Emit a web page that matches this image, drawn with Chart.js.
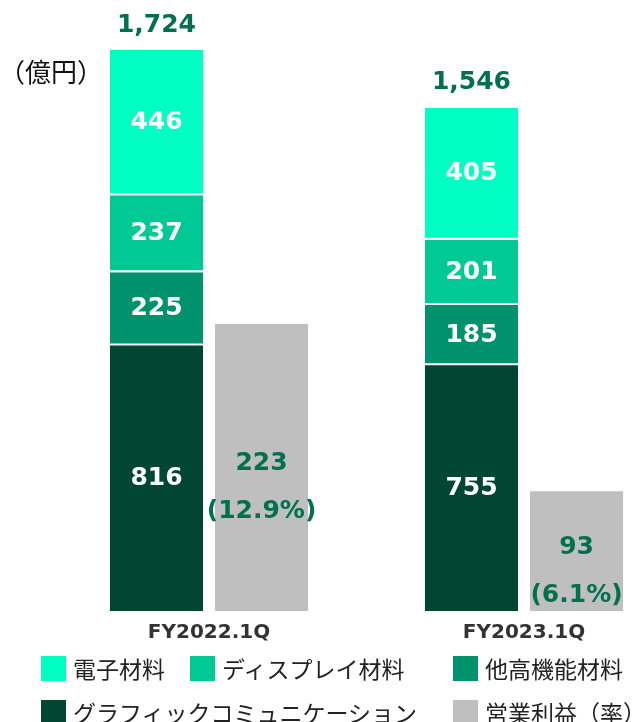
<!DOCTYPE html>
<html>
<head>
<meta charset="utf-8">
<script src="https://cdn.jsdelivr.net/npm/chart.js@4"></script>
<style>
  html, body { margin:0; padding:0; background:#fff; overflow:hidden; }
  #wrap { position:relative; width:639px; height:722px; }
  #unit { position:absolute; left:-1px; top:52px; font:26px 'Noto Sans CJK JP', sans-serif; color:#111; }
  #legend { position:absolute; left:41px; top:646px; display:grid;
            grid-template-columns:149px 263px auto; grid-auto-rows:44px; }
  #legend .item { display:flex; align-items:center; white-space:nowrap;
                  font:23px 'Noto Sans CJK JP', sans-serif; color:#222; }
  #legend .item i { display:inline-block; width:25px; height:25px; margin-right:7px; }
  #legend .wide { grid-column:span 2; }
</style>
</head>
<body>
<div id="wrap">
  <canvas id="c" width="639" height="722"></canvas>
  <div id="unit">（億円）</div>
  <div id="legend"></div>
</div>
<script>
// ---- data ----
const periods    = ['FY2022.1Q', 'FY2023.1Q'];
const electronic = [446, 405];   // 電子材料
const display    = [237, 201];   // ディスプレイ材料
const otherFunc  = [225, 185];   // 他高機能材料
const graphic    = [816, 755];   // グラフィックコミュニケーション
const opProfit   = [223, 93];    // 営業利益
const opMargin   = [12.9, 6.1];  // 営業利益率 (%)

const seriesNames  = ['電子材料', 'ディスプレイ材料', '他高機能材料', 'グラフィックコミュニケーション', '営業利益（率）'];
const seriesColors = ['#00FFC3', '#00C996', '#00916D', '#004632', '#BFBFBF'];

const totals = periods.map((p, i) => electronic[i] + display[i] + otherFunc[i] + graphic[i]);
const opScaleMax = 436; // operating profit is drawn on its own (larger) scale

const GREEN = '#007050';
const NUM_FONT = "bold 25px 'DejaVu Sans', Verdana, sans-serif";

function seg(label, data, color, sep){
  return {
    label, data, backgroundColor: color, stack: 's', yAxisID: 'y', clip: false,
    borderColor: '#fff', borderSkipped: false,
    borderWidth: sep ? {top:0, right:0, bottom:2, left:0} : 0,
    _kind: 'seg'
  };
}

const datasets = [
  seg(seriesNames[3], graphic,    seriesColors[3], false),
  seg(seriesNames[2], otherFunc,  seriesColors[2], true),
  seg(seriesNames[1], display,    seriesColors[1], true),
  seg(seriesNames[0], electronic, seriesColors[0], true),
  { label: seriesNames[4], data: opProfit, backgroundColor: seriesColors[4],
    stack: 'o', yAxisID: 'y2', borderWidth: 0, clip: false, _kind: 'op' }
];

// value labels inside / above bars
const valueLabels = {
  id: 'valueLabels',
  afterDatasetsDraw(chart){
    const ctx = chart.ctx;
    ctx.save();
    ctx.font = NUM_FONT;
    ctx.textAlign = 'center';
    ctx.textBaseline = 'middle';
    chart.data.datasets.forEach((ds, di) => {
      const meta = chart.getDatasetMeta(di);
      meta.data.forEach((bar, i) => {
        const {x, y, base} = bar.getProps(['x', 'y', 'base'], true);
        const mid = (y + base) / 2;
        if (ds._kind === 'seg') {
          ctx.fillStyle = '#fff';
          ctx.fillText(String(ds.data[i]), x, mid);
          if (di === 3) {
            ctx.fillStyle = GREEN;
            ctx.fillText(totals[i].toLocaleString('en-US'), x, y - 25);
          }
        } else {
          ctx.fillStyle = GREEN;
          ctx.fillText(String(opProfit[i]), x, mid - 4);
          ctx.fillText('(' + opMargin[i].toFixed(1) + '%)', x, mid + 44);
        }
      });
    });
    ctx.restore();
  }
};

const hiddenAxis = (pos, max, w) => ({
  position: pos, stacked: true, min: 0, max,
  ticks: { display: false }, grid: { display: false, drawTicks: false }, border: { display: false },
  afterFit(s){ s.width = w; }
});

new Chart(document.getElementById('c'), {
  type: 'bar',
  data: { labels: periods, datasets },
  options: {
    responsive: false,
    animation: false,
    categoryPercentage: 0.667,
    barPercentage: 0.886,
    layout: { padding: { top: 50, bottom: 67 } },
    plugins: { legend: { display: false }, tooltip: { enabled: false } },
    scales: {
      x: {
        stacked: true, offset: false,
        grid: { display: false, drawTicks: false }, border: { display: false },
        ticks: { color: '#333', padding: 10, maxRotation: 0, autoSkip: false,
                 font: { family: "'DejaVu Sans', Verdana, sans-serif", weight: 'bold', size: 20 } }
      },
      y: hiddenAxis('left', Math.max(...totals), 209),
      y2: hiddenAxis('right', opScaleMax, 115)
    }
  },
  plugins: [valueLabels]
});

// legend (two rows, as in the original slide)
document.getElementById('legend').innerHTML = seriesNames.map((name, k) =>
  `<div class="item${k === 3 ? ' wide' : ''}"><i style="background:${seriesColors[k]}"></i>${name}</div>`
).join('');
</script>
</body>
</html>
